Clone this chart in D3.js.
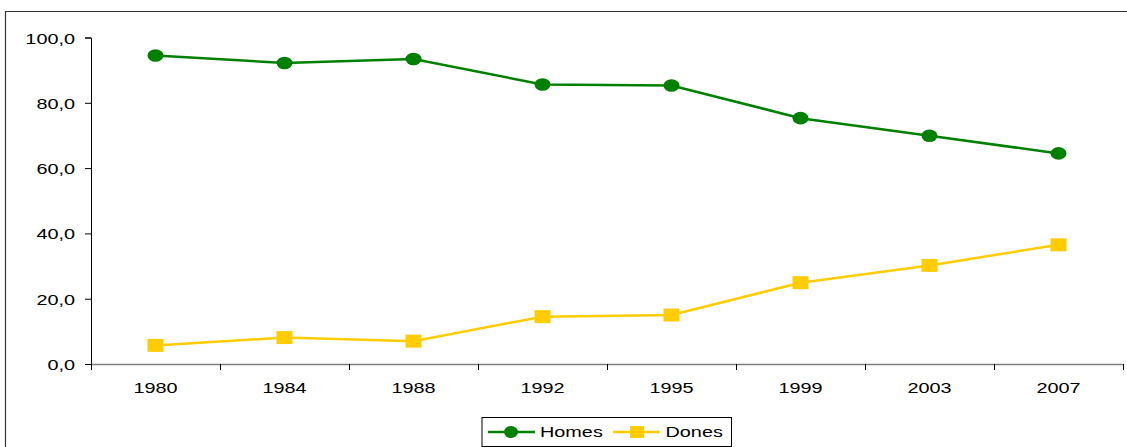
<!DOCTYPE html>
<html><head><meta charset="utf-8">
<script src="https://cdn.jsdelivr.net/npm/d3@7"></script>
<style>body{margin:0;background:#fff}svg{display:block}text{font-family:"Liberation Sans",Arial,sans-serif}</style>
</head><body><svg id="c" width="1127" height="447"></svg>
<script>
const years = ["1980","1984","1988","1992","1995","1999","2003","2007"];
const homes = [94.5, 92.2, 93.4, 85.6, 85.3, 75.3, 69.9, 64.5];
const dones = [5.7, 8.1, 7.0, 14.5, 15.0, 24.9, 30.2, 36.5];
const yTicks = [0, 20, 40, 60, 80, 100];
const seriesNames = ["Homes", "Dones"];
const colors = ["#008000", "#FFCC00"];

const SX = 1.28, FS = 15.5;
const svg = d3.select("#c");
svg.append("path").attr("d","M5.5,447 V11.5 H1127").attr("fill","none").attr("stroke","#333").attr("stroke-width",1.2);

const x = d3.scaleBand().domain(years).range([91, 1123]);
const y = d3.scaleLinear().domain([0, 100]).range([364, 37.5]);
const fmt = v => d3.format(".1f")(v).replace(".", ",");

const gy = svg.append("g").attr("transform","translate(91,0)")
  .call(d3.axisLeft(y).tickValues(yTicks).tickFormat(fmt).tickSize(6));
gy.select(".domain").attr("stroke","#000");
gy.selectAll(".tick line").attr("stroke","#000");
gy.selectAll("text").attr("font-size",FS).attr("fill","#000")
  .attr("x", -16/SX).attr("dy","0.36em").attr("transform",`scale(${SX},1)`);

const gx = svg.append("g").attr("transform","translate(0,364)")
  .call(d3.axisBottom(x).tickSize(0));
gx.select(".domain").attr("stroke","#808080").attr("stroke-width",1.5);
gx.selectAll("text").attr("font-size",FS).attr("fill","#000")
  .attr("y", 29.5).attr("dy", 0).attr("transform",`scale(${SX},1)`);
const bounds = years.map(d => x(d)).concat([x.range()[1]]);
gx.selectAll("line.bt").data(bounds).join("line").attr("class","bt")
  .attr("x1",d=>d+0.5).attr("x2",d=>d+0.5).attr("y1",0).attr("y2",6).attr("stroke","#000");

const cx = d => x(d) + x.bandwidth()/2;
const line = d3.line().x((d,i)=>cx(years[i])).y(d=>y(d));

[homes, dones].forEach((s, k) => {
  svg.append("path").datum(s).attr("d", line).attr("fill","none")
    .attr("stroke", colors[k]).attr("stroke-width", 2.5);
});
svg.append("g").selectAll("ellipse").data(homes).join("ellipse")
  .attr("cx",(d,i)=>cx(years[i])).attr("cy",d=>y(d)).attr("rx",8).attr("ry",6.3).attr("fill",colors[0]);
svg.append("g").selectAll("rect").data(dones).join("rect")
  .attr("x",(d,i)=>cx(years[i])-8).attr("y",d=>y(d)-6.5).attr("width",16).attr("height",13).attr("fill",colors[1]);

const lg = svg.append("g");
lg.append("rect").attr("x",482).attr("y",417.5).attr("width",249.5).attr("height",29).attr("fill","#fff").attr("stroke","#000").attr("stroke-width",1);
const items = [{x:488, tx:540, name:seriesNames[0]}, {x:613, tx:665.5, name:seriesNames[1]}];
items.forEach((it,k)=>{
  lg.append("line").attr("x1",it.x).attr("x2",it.x+47).attr("y1",432).attr("y2",432).attr("stroke",colors[k]).attr("stroke-width",2.5);
  if (k===0) lg.append("ellipse").attr("cx",it.x+23).attr("cy",432).attr("rx",7).attr("ry",6).attr("fill",colors[0]);
  else lg.append("rect").attr("x",it.x+17).attr("y",426).attr("width",14).attr("height",12).attr("fill",colors[1]);
  lg.append("text").attr("x",it.tx/SX).attr("y",437.5).attr("transform",`scale(${SX},1)`)
    .attr("font-size",FS).attr("fill","#000").text(it.name);
});
</script></body></html>
